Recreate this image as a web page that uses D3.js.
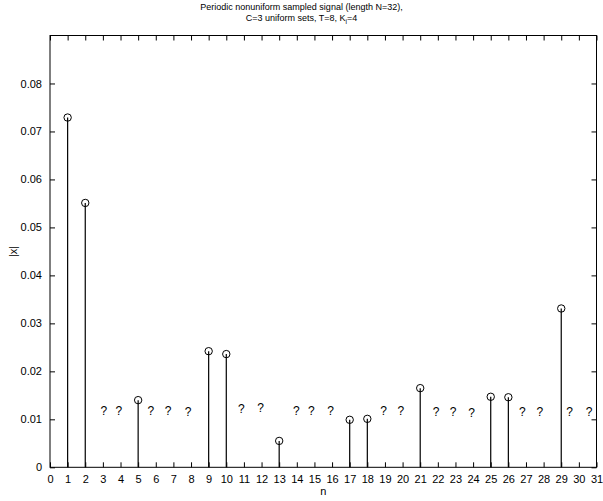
<!DOCTYPE html>
<html>
<head>
<meta charset="utf-8" />
<title>Periodic nonuniform sampled signal</title>
<style>
html, body {
    padding: 0px;
    margin: 0px;
    background: #fff;
}
svg text {
    font-family: "Liberation Sans", Arial, Helvetica, sans-serif;
    fill: #000;
}
</style>
</head>
<body>
<div id="chart"></div>

<script src="https://cdnjs.cloudflare.com/ajax/libs/d3/7.8.5/d3.min.js"></script>
<script>
!(function(){
    "use strict";

    // known samples (stems)
    var sampleN   = [1, 2, 5, 9, 10, 13, 17, 18, 21, 25, 26, 29];
    var sampleVal = [0.0729, 0.0551, 0.0140, 0.0242, 0.0236, 0.0055,
                     0.0099, 0.0101, 0.0165, 0.0147, 0.0146, 0.0331];

    // unknown samples, drawn as "?" (position)
    var unknownN   = [3.05, 3.90, 5.72, 6.70, 7.83, 10.86, 11.94, 13.98, 14.83, 15.91,
                      18.93, 19.90, 21.90, 22.86, 23.91, 26.80, 27.78, 29.48, 30.58];
    var unknownVal = [0.0119, 0.0119, 0.0117, 0.0117, 0.0116, 0.0122, 0.0124, 0.0119, 0.0119, 0.0119,
                      0.0117, 0.0119, 0.0115, 0.0115, 0.0113, 0.0115, 0.0115, 0.0115, 0.0115];

    var xTicks = d3.range(0, 32);
    var yTicks = [0, 0.01, 0.02, 0.03, 0.04, 0.05, 0.06, 0.07, 0.08];

    var width = 603, height = 501;
    var margin = {left: 50, right: 6.5, top: 35.5, bottom: 33.7};

    var svg = d3.select("#chart").append("svg")
        .attr("width", width)
        .attr("height", height);

    var x = d3.scaleLinear().domain([0, 31]).range([margin.left, width - margin.right]);
    var y = d3.scaleLinear().domain([0, 0.09]).range([height - margin.bottom, margin.top]);

    var tick = 5;
    var fmtY = function(d) { return d === 0 ? "0" : d3.format(".2f")(d); };

    // axes (MATLAB style: inward ticks on all sides)
    svg.append("g")
        .attr("transform", "translate(0," + y(0) + ")")
        .call(d3.axisBottom(x).tickValues(xTicks).tickSize(-tick).tickPadding(3 + tick).tickFormat(d3.format("d")))
        .call(style);
    svg.append("g")
        .attr("transform", "translate(0," + y(0.09) + ")")
        .call(d3.axisTop(x).tickValues(xTicks).tickSize(-tick).tickFormat(""))
        .call(style);
    svg.append("g")
        .attr("transform", "translate(" + x(0) + ",0)")
        .call(d3.axisLeft(y).tickValues(yTicks).tickSize(-tick).tickPadding(3 + tick).tickFormat(fmtY))
        .call(style);
    svg.append("g")
        .attr("transform", "translate(" + x(31) + ",0)")
        .call(d3.axisRight(y).tickValues(yTicks).tickSize(-tick).tickFormat(""))
        .call(style);

    function style(g) {
        g.select(".domain").remove();
        g.selectAll(".tick line").attr("stroke", "#000");
        g.selectAll(".tick text")
            .style("font-family", "'Liberation Sans', Arial, Helvetica, sans-serif")
            .style("font-size", "11px");
    }

    svg.append("rect")
        .attr("x", x(0)).attr("y", y(0.09))
        .attr("width", x(31) - x(0)).attr("height", y(0) - y(0.09))
        .attr("fill", "none").attr("stroke", "#000").attr("stroke-width", 1);

    // stems
    var stems = svg.append("g");
    stems.selectAll("line")
        .data(sampleN)
        .enter()
        .append("line")
        .attr("x1", function(d) { return x(d); })
        .attr("x2", function(d) { return x(d); })
        .attr("y1", y(0))
        .attr("y2", function(d, i) { return y(sampleVal[i]); })
        .attr("stroke", "#000")
        .attr("stroke-width", 1.2);
    stems.selectAll("circle")
        .data(sampleN)
        .enter()
        .append("circle")
        .attr("cx", function(d) { return x(d); })
        .attr("cy", function(d, i) { return y(sampleVal[i]); })
        .attr("r", 3.7)
        .attr("fill", "none")
        .attr("stroke", "#000")
        .attr("stroke-width", 1);

    // unknown samples
    svg.append("g").selectAll("text")
        .data(unknownN)
        .enter()
        .append("text")
        .attr("x", function(d) { return x(d); })
        .attr("y", function(d, i) { return y(unknownVal[i]); })
        .attr("dy", "0.36em")
        .attr("text-anchor", "middle")
        .style("font-size", "12px")
        .text("?");

    // labels
    var cx = (x(0) + x(31)) / 2;
    var tx = width / 2;
    var title = svg.append("text")
        .attr("x", tx).attr("y", 10)
        .attr("text-anchor", "middle")
        .style("font-size", "9px");
    title.append("tspan").attr("x", tx).text("Periodic nonuniform sampled signal (length N=32),");
    var t2 = title.append("tspan").attr("x", tx).attr("dy", 10.5);
    t2.append("tspan").text("C=3 uniform sets, T=8, K");
    t2.append("tspan").attr("dy", 3).style("font-size", "6.5px").text("i");
    t2.append("tspan").attr("dy", -3).text("=4");

    svg.append("text")
        .attr("x", cx).attr("y", 495)
        .attr("text-anchor", "middle")
        .style("font-size", "11px")
        .text("n");

    svg.append("text")
        .attr("transform", "translate(17," + ((y(0) + y(0.09)) / 2) + ") rotate(-90)")
        .attr("text-anchor", "middle")
        .style("font-size", "11px")
        .text("|x|");

}());
</script>
</body>
</html>
